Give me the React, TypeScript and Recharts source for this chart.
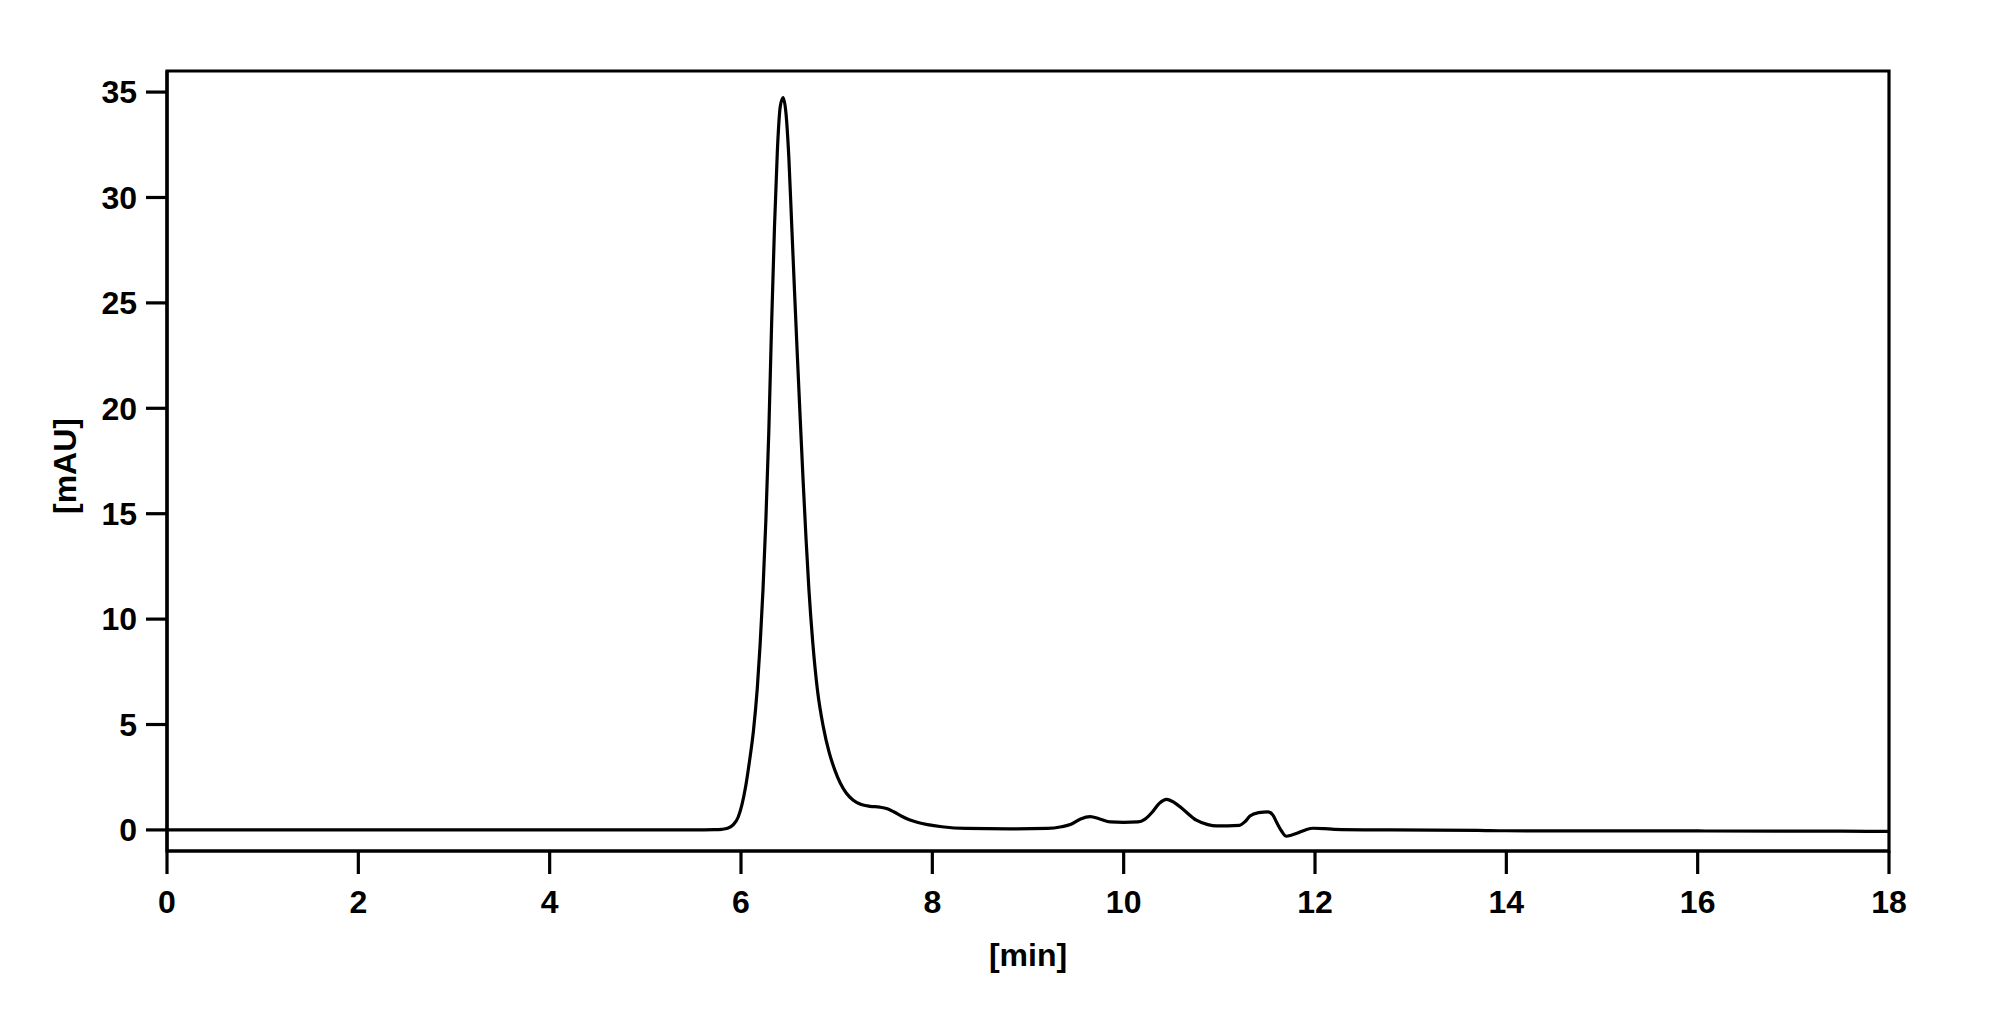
import React from 'react';
import { LineChart, Line, XAxis, YAxis, ReferenceArea, Label } from 'recharts';

// Retention time [min]
const times = [
  0, 2, 4, 5.5, 5.72, 5.8, 5.86, 5.92, 5.97, 6.01, 6.05, 6.09, 6.13, 6.17, 6.2, 6.23, 6.26,
  6.29, 6.32, 6.35, 6.38, 6.41, 6.44, 6.47, 6.5, 6.53, 6.56, 6.59, 6.62, 6.65, 6.68, 6.71,
  6.75, 6.8, 6.86, 6.92, 6.98, 7.04, 7.1, 7.17, 7.25, 7.35, 7.45, 7.53, 7.6, 7.68, 7.76, 7.85,
  7.95, 8.1, 8.35, 8.8, 9.2, 9.35, 9.45, 9.55, 9.65, 9.75, 9.86, 10.0, 10.15, 10.22, 10.3,
  10.37, 10.45, 10.53, 10.62, 10.76, 10.88, 10.97, 11.21, 11.27, 11.32, 11.41, 11.51, 11.56,
  11.6, 11.65, 11.7, 11.75, 11.81, 11.9, 11.98, 12.1, 12.2, 12.8, 13.7, 14, 16, 17.5, 18,
];

// Absorbance [mAU]
const signal = [
  0, 0, 0, 0, 0.01, 0.03, 0.08, 0.25, 0.6, 1.2, 2.1, 3.3, 4.7, 6.7, 8.8, 11.4, 14.7,
  18.8, 24.0, 28.6, 32.2, 34.3, 34.74, 34.0, 31.9, 28.7, 25.5, 22.4, 19.4, 16.5, 13.8, 11.4,
  8.9, 6.6, 4.9, 3.7, 2.85, 2.2, 1.75, 1.42, 1.22, 1.12, 1.08, 1.0, 0.85, 0.65, 0.48, 0.35,
  0.25, 0.15, 0.07, 0.05, 0.07, 0.15, 0.27, 0.52, 0.63, 0.52, 0.38, 0.36, 0.38, 0.5, 0.85,
  1.25, 1.45, 1.3, 0.98, 0.46, 0.25, 0.19, 0.22, 0.4, 0.66, 0.82, 0.86, 0.7,
  0.35, -0.05, -0.3, -0.25, -0.16, 0.0, 0.08, 0.06, 0.03, 0.0, -0.02, -0.04, -0.05, -0.06, -0.07,
];

const xTicks = [0, 2, 4, 6, 8, 10, 12, 14, 16, 18];
const yTicks = [0, 5, 10, 15, 20, 25, 30, 35];
const xLabelText = '[min]';
const yLabelText = '[mAU]';

const data = times.map((t, i) => ({ t, v: signal[i] }));

const FONT = '"Liberation Sans", Arial, Helvetica, sans-serif';
const FS = 32;
const tickStyle = { fontFamily: FONT, fontSize: FS, fontWeight: 700, fill: '#000' };

const XLabel = (props: any) => {
  const vb = props.viewBox || { x: 0, y: 0, width: 0, height: 0 };
  const cx = vb.x + vb.width / 2;
  const y = vb.y + 115;
  return (
    <text x={cx} y={y} textAnchor="middle" fontFamily={FONT} fontSize={FS} fontWeight={700} fill="#000">
      {xLabelText}
    </text>
  );
};

const YLabel = (props: any) => {
  const vb = props.viewBox || { x: 0, y: 0, width: 0, height: 0 };
  const x = vb.x + 9;
  const cy = vb.y + vb.height / 2 + 5;
  return (
    <text
      x={x}
      y={cy}
      transform={`rotate(-90 ${x} ${cy})`}
      textAnchor="middle"
      fontFamily={FONT}
      fontSize={FS}
      fontWeight={700}
      fill="#000"
    >
      {yLabelText}
    </text>
  );
};

export default function App() {
  return (
    <div style={{ width: 1983, height: 1000, background: '#fff' }}>
      <LineChart
        width={1983}
        height={1000}
        data={data}
        margin={{ top: 63, right: 102, bottom: 57, left: 59 }}
      >
        <XAxis
          dataKey="t"
          type="number"
          domain={[0, 18]}
          ticks={xTicks}
          allowDataOverflow
          height={100}
          tickSize={23}
          tickMargin={16}
          tick={tickStyle}
          axisLine={{ stroke: '#000', strokeWidth: 3.2 }}
          tickLine={{ stroke: '#000', strokeWidth: 3.2 }}
          interval={0}
        >
          <Label content={<XLabel />} />
        </XAxis>
        <YAxis
          type="number"
          domain={[-1, 36]}
          ticks={yTicks}
          allowDataOverflow
          width={100}
          tickSize={21}
          tickMargin={9}
          tick={tickStyle}
          axisLine={{ stroke: '#000', strokeWidth: 3.2 }}
          tickLine={{ stroke: '#000', strokeWidth: 3.2 }}
          interval={0}
        >
          <Label content={<YLabel />} />
        </YAxis>
        <ReferenceArea
          x1={0}
          x2={18}
          y1={-1}
          y2={36}
          fill="none"
          fillOpacity={0}
          stroke="#000"
          strokeWidth={3.2}
          ifOverflow="visible"
        />
        <Line
          type="monotone"
          dataKey="v"
          stroke="#000"
          strokeWidth={3.2}
          dot={false}
          activeDot={false}
          isAnimationActive={false}
        />
      </LineChart>
    </div>
  );
}
